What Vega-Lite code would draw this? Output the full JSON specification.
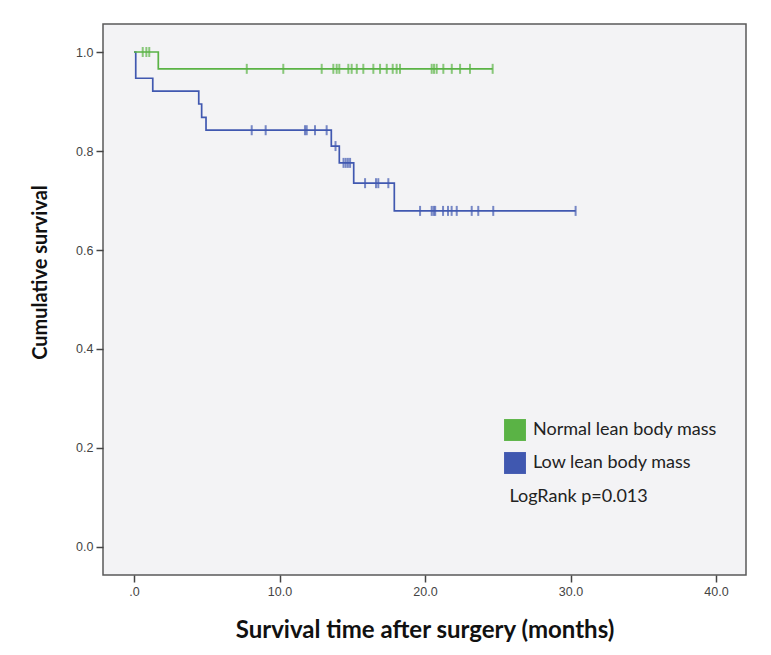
{
  "$schema": "https://vega.github.io/schema/vega-lite/v6.json",
  "width": 643,
  "height": 551,
  "autosize": "none",
  "padding": {"left": 103, "top": 24, "right": 25, "bottom": 80},
  "background": "#ffffff",
  "config": {
    "view": {"fill": "#f3f3f5", "stroke": "#5a5a5a", "strokeWidth": 1.5},
    "font": "Lato"
  },
  "datasets": {
    "km": [
      {"group": "Low lean body mass", "t": 0, "s": 1.0, "censored": false},
      {"group": "Low lean body mass", "t": 0.12, "s": 0.947, "censored": false},
      {"group": "Low lean body mass", "t": 1.29, "s": 0.921, "censored": false},
      {"group": "Low lean body mass", "t": 4.45, "s": 0.895, "censored": false},
      {"group": "Low lean body mass", "t": 4.65, "s": 0.868, "censored": false},
      {"group": "Low lean body mass", "t": 4.95, "s": 0.842, "censored": false},
      {"group": "Low lean body mass", "t": 8.09, "s": 0.842, "censored": true},
      {"group": "Low lean body mass", "t": 9.05, "s": 0.842, "censored": true},
      {"group": "Low lean body mass", "t": 11.75, "s": 0.842, "censored": true},
      {"group": "Low lean body mass", "t": 11.87, "s": 0.842, "censored": true},
      {"group": "Low lean body mass", "t": 12.44, "s": 0.842, "censored": true},
      {"group": "Low lean body mass", "t": 13.24, "s": 0.842, "censored": true},
      {"group": "Low lean body mass", "t": 13.56, "s": 0.81, "censored": false},
      {"group": "Low lean body mass", "t": 13.85, "s": 0.81, "censored": true},
      {"group": "Low lean body mass", "t": 14.11, "s": 0.776, "censored": false},
      {"group": "Low lean body mass", "t": 14.4, "s": 0.776, "censored": true},
      {"group": "Low lean body mass", "t": 14.55, "s": 0.776, "censored": true},
      {"group": "Low lean body mass", "t": 14.7, "s": 0.776, "censored": true},
      {"group": "Low lean body mass", "t": 14.85, "s": 0.776, "censored": true},
      {"group": "Low lean body mass", "t": 15.1, "s": 0.735, "censored": false},
      {"group": "Low lean body mass", "t": 15.88, "s": 0.735, "censored": true},
      {"group": "Low lean body mass", "t": 16.63, "s": 0.735, "censored": true},
      {"group": "Low lean body mass", "t": 16.79, "s": 0.735, "censored": true},
      {"group": "Low lean body mass", "t": 17.48, "s": 0.735, "censored": true},
      {"group": "Low lean body mass", "t": 17.89, "s": 0.679, "censored": false},
      {"group": "Low lean body mass", "t": 19.66, "s": 0.679, "censored": true},
      {"group": "Low lean body mass", "t": 20.46, "s": 0.679, "censored": true},
      {"group": "Low lean body mass", "t": 20.6, "s": 0.679, "censored": true},
      {"group": "Low lean body mass", "t": 20.7, "s": 0.679, "censored": true},
      {"group": "Low lean body mass", "t": 21.24, "s": 0.679, "censored": true},
      {"group": "Low lean body mass", "t": 21.58, "s": 0.679, "censored": true},
      {"group": "Low lean body mass", "t": 21.83, "s": 0.679, "censored": true},
      {"group": "Low lean body mass", "t": 22.18, "s": 0.679, "censored": true},
      {"group": "Low lean body mass", "t": 23.21, "s": 0.679, "censored": true},
      {"group": "Low lean body mass", "t": 23.66, "s": 0.679, "censored": true},
      {"group": "Low lean body mass", "t": 24.69, "s": 0.679, "censored": true},
      {"group": "Low lean body mass", "t": 30.35, "s": 0.679, "censored": true},
      {"group": "Normal lean body mass", "t": 0, "s": 1.0, "censored": false},
      {"group": "Normal lean body mass", "t": 0.6, "s": 1.0, "censored": true},
      {"group": "Normal lean body mass", "t": 0.85, "s": 1.0, "censored": true},
      {"group": "Normal lean body mass", "t": 1.05, "s": 1.0, "censored": true},
      {"group": "Normal lean body mass", "t": 1.67, "s": 0.966, "censored": false},
      {"group": "Normal lean body mass", "t": 7.75, "s": 0.966, "censored": true},
      {"group": "Normal lean body mass", "t": 10.26, "s": 0.966, "censored": true},
      {"group": "Normal lean body mass", "t": 12.9, "s": 0.966, "censored": true},
      {"group": "Normal lean body mass", "t": 13.7, "s": 0.966, "censored": true},
      {"group": "Normal lean body mass", "t": 13.93, "s": 0.966, "censored": true},
      {"group": "Normal lean body mass", "t": 14.11, "s": 0.966, "censored": true},
      {"group": "Normal lean body mass", "t": 14.73, "s": 0.966, "censored": true},
      {"group": "Normal lean body mass", "t": 14.96, "s": 0.966, "censored": true},
      {"group": "Normal lean body mass", "t": 15.31, "s": 0.966, "censored": true},
      {"group": "Normal lean body mass", "t": 15.76, "s": 0.966, "censored": true},
      {"group": "Normal lean body mass", "t": 16.45, "s": 0.966, "censored": true},
      {"group": "Normal lean body mass", "t": 16.91, "s": 0.966, "censored": true},
      {"group": "Normal lean body mass", "t": 17.37, "s": 0.966, "censored": true},
      {"group": "Normal lean body mass", "t": 17.78, "s": 0.966, "censored": true},
      {"group": "Normal lean body mass", "t": 18.05, "s": 0.966, "censored": true},
      {"group": "Normal lean body mass", "t": 18.28, "s": 0.966, "censored": true},
      {"group": "Normal lean body mass", "t": 20.46, "s": 0.966, "censored": true},
      {"group": "Normal lean body mass", "t": 20.62, "s": 0.966, "censored": true},
      {"group": "Normal lean body mass", "t": 20.8, "s": 0.966, "censored": true},
      {"group": "Normal lean body mass", "t": 21.26, "s": 0.966, "censored": true},
      {"group": "Normal lean body mass", "t": 21.84, "s": 0.966, "censored": true},
      {"group": "Normal lean body mass", "t": 22.41, "s": 0.966, "censored": true},
      {"group": "Normal lean body mass", "t": 23.09, "s": 0.966, "censored": true},
      {"group": "Normal lean body mass", "t": 24.65, "s": 0.966, "censored": true}
    ],
    "note": [
      {"t": 25.8, "s": 0.1, "label": "LogRank p=0.013"}
    ]
  },
  "layer": [
    {
      "data": {"name": "km"},
      "mark": {"type": "line", "interpolate": "step-after", "strokeWidth": 1.7},
      "encoding": {
        "x": {
          "field": "t", "type": "quantitative",
          "scale": {"domain": [-2.13, 42.06], "nice": false, "zero": false},
          "axis": {
            "title": "Survival time after surgery (months)",
            "values": [0, 10, 20, 30, 40],
            "labelExpr": "datum.value == 0 ? '.0' : format(datum.value, '.1f')",
            "grid": false, "domain": false,
            "tickColor": "#444", "tickSize": 7, "tickWidth": 1.5,
            "labelColor": "#444", "labelFontSize": 12.5, "labelFont": "Liberation Sans", "labelPadding": 3,
            "titleFont": "Lato", "titleFontSize": 24, "titleFontWeight": "bold", "titleColor": "#111",
            "titlePadding": 21
          }
        },
        "y": {
          "field": "s", "type": "quantitative",
          "scale": {"domain": [-0.0566, 1.0566], "nice": false, "zero": false},
          "axis": {
            "title": "Cumulative survival",
            "values": [0, 0.2, 0.4, 0.6, 0.8, 1.0],
            "format": ".1f",
            "grid": false, "domain": false,
            "tickColor": "#444", "tickSize": 7, "tickWidth": 1.5,
            "labelColor": "#444", "labelFontSize": 12.5, "labelFont": "Liberation Sans", "labelPadding": 3,
            "titleFont": "Lato", "titleFontSize": 20, "titleFontWeight": "bold", "titleColor": "#111",
            "titleX": -57, "titleY": 248, "titleBaseline": "alphabetic", "titleAlign": "center", "titleAngle": -90
          }
        },
        "color": {
          "field": "group", "type": "nominal",
          "scale": {"domain": ["Normal lean body mass", "Low lean body mass"], "range": ["#5ab345", "#4058b0"]},
          "legend": {
            "title": null,
            "orient": "none",
            "legendX": 401,
            "legendY": 395,
            "symbolType": "square",
            "symbolSize": 480,
            "symbolStrokeWidth": 0,
            "symbolOpacity": 1,
            "labelFont": "Lato",
            "labelFontSize": 18,
            "labelColor": "#222",
            "labelOffset": 7,
            "labelLimit": 400,
            "rowPadding": 11,
            "encode": {
              "symbols": {
                "update": {
                  "fill": {"field": "value", "scale": "color"},
                  "fillOpacity": {"value": 1},
                  "opacity": {"value": 1}
                }
              }
            }
          }
        },
        "order": {"field": "t", "type": "quantitative"}
      }
    },
    {
      "data": {"name": "km"},
      "transform": [{"filter": "datum.censored"}],
      "mark": {"type": "tick", "orient": "vertical", "size": 10, "thickness": 2},
      "encoding": {
        "x": {"field": "t", "type": "quantitative"},
        "y": {"field": "s", "type": "quantitative"},
        "color": {"field": "group", "type": "nominal"}
      }
    },
    {
      "data": {"name": "note"},
      "mark": {"type": "text", "align": "left", "baseline": "middle", "font": "Lato", "fontSize": 18, "color": "#222"},
      "encoding": {
        "x": {"field": "t", "type": "quantitative"},
        "y": {"field": "s", "type": "quantitative"},
        "text": {"field": "label"}
      }
    }
  ]
}
